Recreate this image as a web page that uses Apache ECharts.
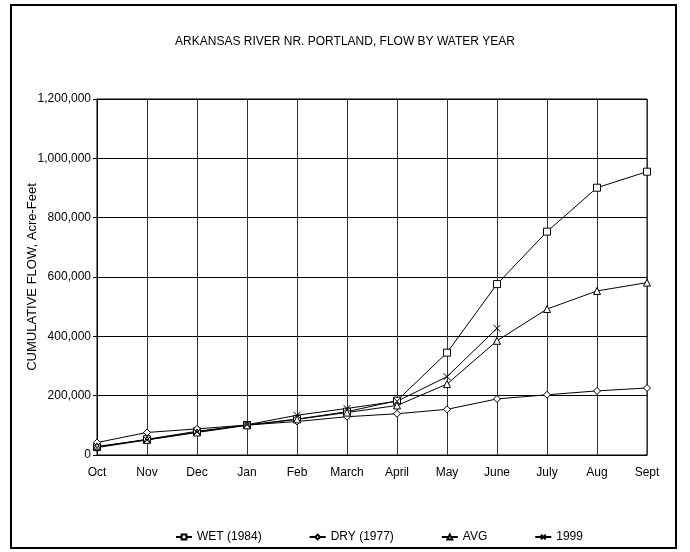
<!DOCTYPE html>
<html><head><meta charset="utf-8">
<script src="https://cdn.jsdelivr.net/npm/echarts@6/dist/echarts.min.js"></script>
<style>html,body{margin:0;padding:0;background:#fff}#c{width:690px;height:552px}</style>
</head><body><div id="c"></div>
<script>
const months = ["Oct","Nov","Dec","Jan","Feb","March","April","May","June","July","Aug","Sept"];
const wet1984 = [27000, 53000, 80000, 101000, 121000, 146000, 183000, 345000, 576000, 753000, 901000, 955000];
const dry1977 = [42000, 76000, 88000, 101000, 113000, 129000, 139000, 154000, 189000, 203000, 216000, 226000];
const avg = [29000, 51000, 76000, 100000, 120000, 143000, 167000, 239000, 385000, 492000, 553000, 581000];
const y1999 = [25000, 51000, 77000, 102000, 134000, 157000, 181000, 264000, 427000];
const yTicks = [0, 200000, 400000, 600000, 800000, 1000000, 1200000];

const font = '"Liberation Sans Narrow", "Liberation Sans", Arial, sans-serif';
const xPath = 'path://M0,0 L10,10 M10,0 L0,10';
function mk(name, data, symbol, size) {
  return {
    name, type: 'line', data, symbol, symbolSize: size,
    lineStyle: { color: '#000', width: 1 },
    itemStyle: { color: '#fff', borderColor: '#000', borderWidth: 1 },
    emphasis: { disabled: true }
  };
}
const chart = echarts.init(document.getElementById('c'), null, { renderer: 'canvas' });
chart.setOption({
  animation: false,
  backgroundColor: '#fff',
  title: {
    text: 'ARKANSAS RIVER NR. PORTLAND, FLOW BY WATER YEAR',
    left: 'center', top: 31,
    textStyle: { fontFamily: font, fontSize: 12, fontWeight: 'normal', color: '#000' }
  },
  graphic: [{
    type: 'rect', shape: { x: 11, y: 5, width: 665, height: 543 },
    style: { fill: 'none', stroke: '#000', lineWidth: 2 }, silent: true
  }],
  grid: { left: 97, right: 43, top: 99, bottom: 97, show: true, borderColor: '#000', borderWidth: 1 },
  legend: {
    top: 526, left: 170, itemGap: 47, itemWidth: 16, itemHeight: 6,
    textStyle: { fontFamily: font, fontSize: 12, color: '#000' },
    data: ['WET (1984)', 'DRY (1977)', 'AVG', '1999']
  },
  xAxis: {
    type: 'category', data: months, boundaryGap: false,
    axisLine: { lineStyle: { color: '#000' } },
    axisTick: { show: false },
    axisLabel: { fontFamily: font, fontSize: 12, color: '#000', margin: 12, interval: 0 },
    splitLine: { show: true, lineStyle: { color: '#333', width: 1 } }
  },
  yAxis: {
    type: 'value', min: 0, max: 1200000, interval: 200000,
    name: 'CUMULATIVE FLOW, Acre-Feet', nameLocation: 'middle', nameGap: 58,
    nameMoveOverlap: false,
    nameTextStyle: { fontFamily: 'Liberation Sans, Arial, sans-serif', fontSize: 13, color: '#000' },
    axisLine: { show: true, lineStyle: { color: '#000' } },
    axisTick: { show: true, length: 4, lineStyle: { color: '#000' } },
    axisLabel: { fontFamily: font, fontSize: 12, color: '#000', margin: 6,
      formatter: v => v.toLocaleString('en-US') },
    splitLine: { show: true, lineStyle: { color: '#000', width: 1 } }
  },
  series: [
    mk('WET (1984)', wet1984, 'rect', 7),
    mk('DRY (1977)', dry1977, 'diamond', 7),
    mk('AVG', avg, 'triangle', 7),
    mk('1999', y1999, xPath, 7)
  ]
});
</script></body></html>
